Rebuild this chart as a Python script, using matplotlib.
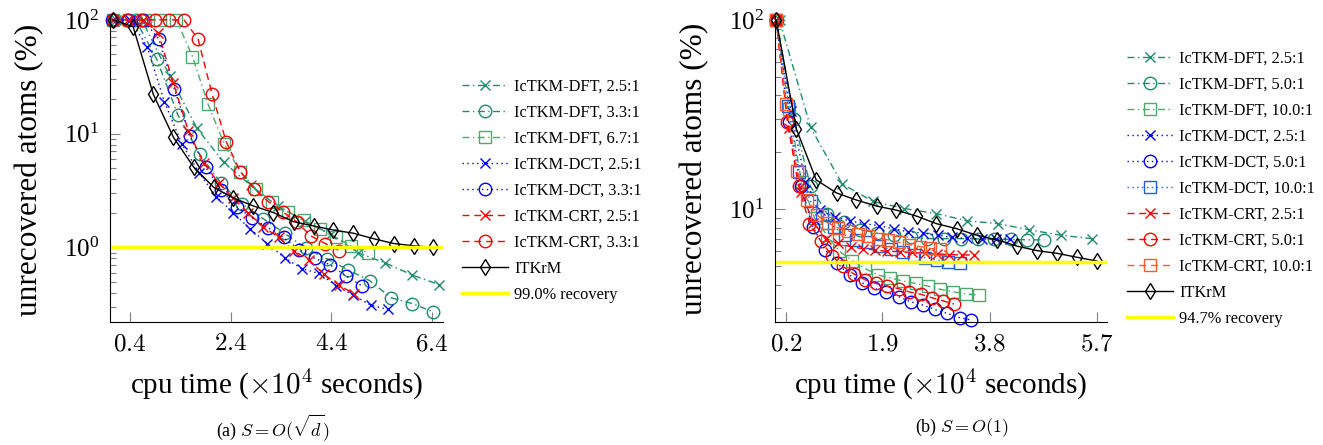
import matplotlib.pyplot as plt
from matplotlib.ticker import LogLocator, NullFormatter

plt.rcParams['font.family'] = 'Liberation Serif'
plt.rcParams['mathtext.fontset'] = 'cm'

# ---------------- (a) S = O(sqrt d) ----------------
a_dft25_x = [0.12, 0.66, 1.19, 1.73, 2.26, 2.80, 3.33, 3.87, 4.40, 4.94, 5.47, 6.01, 6.54]
a_dft25_y = [100, 95, 32, 11.1, 5.6, 3.5, 2.3, 1.7, 1.3, 0.89, 0.73, 0.57, 0.47]
a_dft33_x = [0.08, 0.51, 0.93, 1.35, 1.78, 2.20, 2.62, 3.05, 3.47, 3.89, 4.32, 4.74, 5.16, 5.59, 6.01, 6.43]
a_dft33_y = [100, 100, 45, 14.6, 6.6, 3.7, 2.41, 1.78, 1.33, 0.98, 0.79, 0.63, 0.51, 0.36, 0.32, 0.27]
a_dft67_x = [0.06, 0.37, 0.69, 1.00, 1.32, 1.64, 1.95, 2.27, 2.59, 2.90, 3.22, 3.54, 3.85, 4.17, 4.49, 4.80, 5.12]
a_dft67_y = [100, 100, 100, 100, 100, 47.6, 18.1, 8.1, 4.63, 3.28, 2.52, 2.05, 1.74, 1.44, 1.22, 1.03, 0.90]
a_dct25_x = [0.06, 0.40, 0.74, 1.08, 1.43, 1.77, 2.11, 2.45, 2.79, 3.13, 3.47, 3.81, 4.15, 4.50, 4.84, 5.18, 5.52]
a_dct25_y = [100, 100, 58, 19.1, 8.1, 4.54, 2.79, 2.02, 1.44, 1.08, 0.81, 0.65, 0.59, 0.46, 0.38, 0.31, 0.285]
a_dct33_x = [0.04, 0.35, 0.66, 0.97, 1.28, 1.59, 1.90, 2.21, 2.52, 2.83, 3.14, 3.45, 3.76, 4.07, 4.38, 4.69, 5.00]
a_dct33_y = [100, 100, 100, 68, 24.5, 9.5, 5.06, 3.19, 2.28, 1.80, 1.49, 1.22, 0.95, 0.80, 0.70, 0.56, 0.46]
a_crt25_x = [0.06, 0.36, 0.66, 0.96, 1.26, 1.56, 1.86, 2.16, 2.45, 2.75, 3.05, 3.35, 3.65, 3.95, 4.25, 4.55, 4.85]
a_crt25_y = [100, 100, 100, 77, 27.7, 10.5, 5.56, 3.66, 2.70, 1.99, 1.52, 1.22, 0.935, 0.774, 0.58, 0.466, 0.389]
a_crt33_x = [0.06, 0.34, 0.62, 0.90, 1.18, 1.47, 1.75, 2.03, 2.31, 2.59, 2.87, 3.15, 3.43, 3.71, 3.99, 4.28, 4.56]
a_crt33_y = [100, 100, 100, 100, 100, 100, 68, 22.2, 8.5, 4.63, 3.26, 2.52, 2.06, 1.68, 1.26, 1.08, 0.935]
a_itkrm_x = [0.06, 0.46, 0.86, 1.26, 1.66, 2.06, 2.45, 2.85, 3.25, 3.65, 4.05, 4.44, 4.84, 5.24, 5.64, 6.04, 6.43]
a_itkrm_y = [100, 87, 22.2, 9.3, 5.1, 3.37, 2.72, 2.31, 2.02, 1.68, 1.54, 1.42, 1.33, 1.19, 1.08, 1.03, 1.0]
a_recovery = 1.0
a_xticks = [0.4, 2.4, 4.4, 6.4]

# ---------------- (b) S = O(1) ----------------
b_dft25_x = [0.08, 0.63, 1.19, 1.74, 2.29, 2.85, 3.40, 3.95, 4.50, 5.06, 5.61]
b_dft25_y = [100, 27.1, 13.6, 11.0, 10.1, 9.5, 8.7, 8.4, 7.8, 7.3, 7.0]
b_dft50_x = [0.03, 0.33, 0.63, 0.92, 1.22, 1.51, 1.81, 2.11, 2.40, 2.70, 2.99, 3.29, 3.59, 3.88, 4.18, 4.47, 4.77]
b_dft50_y = [100, 30, 13.2, 9.5, 8.6, 7.8, 7.5, 7.3, 7.1, 7.0, 7.0, 7.0, 6.97, 6.94, 6.94, 6.9, 6.9]
b_dft100_x = [0.02, 0.25, 0.47, 0.70, 0.92, 1.14, 1.37, 1.59, 1.82, 2.04, 2.26, 2.49, 2.71, 2.93, 3.16, 3.38, 3.61]
b_dft100_y = [100, 34, 14, 9, 7.3, 6.0, 5.36, 4.88, 4.5, 4.35, 4.18, 4.06, 3.93, 3.78, 3.67, 3.57, 3.53]
b_dct25_x = [0.02, 0.28, 0.54, 0.80, 1.06, 1.32, 1.58, 1.84, 2.10, 2.36, 2.62, 2.88, 3.14, 3.40, 3.66, 3.92, 4.17]
b_dct25_y = [100, 33, 14, 9.9, 9.1, 8.7, 8.4, 8.2, 7.9, 7.6, 7.5, 7.3, 7.1, 7.03, 6.97, 6.97, 6.97]
b_dct50_x = [0.02, 0.24, 0.46, 0.67, 0.89, 1.10, 1.32, 1.54, 1.75, 1.97, 2.19, 2.40, 2.62, 2.83, 3.05, 3.27, 3.48]
b_dct50_y = [100, 29, 13.2, 8.1, 6.1, 5.2, 4.5, 4.1, 3.83, 3.65, 3.46, 3.25, 3.12, 2.96, 2.82, 2.68, 2.60]
b_dct100_x = [0.02, 0.23, 0.43, 0.63, 0.83, 1.04, 1.24, 1.44, 1.65, 1.85, 2.05, 2.26, 2.46, 2.66, 2.87, 3.07, 3.27]
b_dct100_y = [100, 35, 15.8, 11.0, 9.3, 8.1, 7.3, 6.9, 6.7, 6.4, 6.15, 5.98, 5.74, 5.56, 5.40, 5.29, 5.19]
b_crt25_x = [0.02, 0.24, 0.46, 0.68, 0.90, 1.12, 1.34, 1.55, 1.77, 1.99, 2.21, 2.43, 2.65, 2.87, 3.09, 3.31, 3.52]
b_crt25_y = [100, 26.8, 12.4, 8.5, 7.0, 6.6, 6.35, 6.2, 6.1, 6.0, 5.98, 5.93, 5.86, 5.81, 5.77, 5.74, 5.74]
b_crt50_x = [0.02, 0.22, 0.42, 0.61, 0.81, 1.01, 1.20, 1.40, 1.60, 1.79, 1.99, 2.19, 2.38, 2.58, 2.78, 2.97, 3.17]
b_crt50_y = [100, 29, 13.2, 8.4, 6.8, 5.7, 5.0, 4.55, 4.24, 4.06, 3.93, 3.81, 3.66, 3.56, 3.41, 3.29, 3.16]
b_crt100_x = [0.02, 0.20, 0.39, 0.57, 0.75, 0.93, 1.11, 1.29, 1.47, 1.65, 1.83, 2.01, 2.20, 2.38, 2.56, 2.74, 2.92]
b_crt100_y = [100, 36, 16, 11.2, 9.3, 8.5, 8.0, 7.7, 7.4, 7.2, 7.0, 6.9, 6.7, 6.5, 6.36, 6.22, 6.15]
b_itkrm_x = [0.02, 0.38, 0.73, 1.09, 1.44, 1.80, 2.15, 2.51, 2.86, 3.22, 3.57, 3.93, 4.28, 4.64, 4.99, 5.35, 5.70]
b_itkrm_y = [100, 26.5, 14.3, 12.2, 11.2, 10.4, 9.9, 9.2, 8.4, 7.9, 7.3, 6.9, 6.4, 6.05, 5.86, 5.58, 5.33]
b_recovery = 5.3
b_xticks = [0.2, 1.9, 3.8, 5.7]

TEAL = '#1f8c6c'
LGREEN = '#4daa6e'
BLUE = '#0000ff'
BLUE2 = '#1f5fe0'
RED = '#ff0000'
ORANGE = '#ff5a2e'
DASHDOT = (0, (5, 2.5, 1, 2.5))
DOTTED = (0, (1, 2.5))
DASHED = (0, (5, 3.5))

series_a = [
    ('IcTKM-DFT, 2.5:1', a_dft25_x, a_dft25_y, TEAL, DASHDOT, 'x', 7),
    ('IcTKM-DFT, 3.3:1', a_dft33_x, a_dft33_y, TEAL, DASHDOT, 'o', 9),
    ('IcTKM-DFT, 6.7:1', a_dft67_x, a_dft67_y, LGREEN, DASHDOT, 's', 8.5),
    ('IcTKM-DCT, 2.5:1', a_dct25_x, a_dct25_y, BLUE, DOTTED, 'x', 7),
    ('IcTKM-DCT, 3.3:1', a_dct33_x, a_dct33_y, BLUE, DOTTED, 'o', 9),
    ('IcTKM-CRT, 2.5:1', a_crt25_x, a_crt25_y, RED, DASHED, 'x', 7),
    ('IcTKM-CRT, 3.3:1', a_crt33_x, a_crt33_y, RED, DASHED, 'o', 9),
    ('ITKrM', a_itkrm_x, a_itkrm_y, 'black', '-', 'd', 8.5),
]
series_b = [
    ('IcTKM-DFT, 2.5:1', b_dft25_x, b_dft25_y, TEAL, DASHDOT, 'x', 7),
    ('IcTKM-DFT, 5.0:1', b_dft50_x, b_dft50_y, TEAL, DASHDOT, 'o', 9),
    ('IcTKM-DFT, 10.0:1', b_dft100_x, b_dft100_y, LGREEN, DASHDOT, 's', 8.5),
    ('IcTKM-DCT, 2.5:1', b_dct25_x, b_dct25_y, BLUE, DOTTED, 'x', 7),
    ('IcTKM-DCT, 5.0:1', b_dct50_x, b_dct50_y, BLUE, DOTTED, 'o', 9),
    ('IcTKM-DCT, 10.0:1', b_dct100_x, b_dct100_y, BLUE2, DOTTED, 's', 8.5),
    ('IcTKM-CRT, 2.5:1', b_crt25_x, b_crt25_y, RED, DASHED, 'x', 7),
    ('IcTKM-CRT, 5.0:1', b_crt50_x, b_crt50_y, RED, DASHED, 'o', 9),
    ('IcTKM-CRT, 10.0:1', b_crt100_x, b_crt100_y, ORANGE, DASHED, 's', 8.5),
    ('ITKrM', b_itkrm_x, b_itkrm_y, 'black', '-', 'd', 8.5),
]

W, H = 1323, 445
fig = plt.figure(figsize=(W / 100, H / 100), dpi=100)
ax1 = fig.add_axes([110 / W, 1 - 322 / H, 333 / W, 305 / H])
ax2 = fig.add_axes([775 / W, 1 - 322 / H, 332 / W, 306 / H])


def draw(ax, series, recovery, rec_label, xticks, xlim, ylim, caption, cap_x, leg_xy):
    for label, x, y, c, ls, m, ms in series:
        ax.plot(x, y, color=c, linestyle=ls, linewidth=1, marker=m, markersize=ms,
                markerfacecolor='none', markeredgecolor=c, markeredgewidth=1,
                label=label, clip_on=False)
    ax.axhline(recovery, color='#ffff00', linewidth=2.5, label=rec_label)
    ax.set_yscale('log')
    ax.set_xlim(*xlim)
    ax.set_ylim(*ylim)
    ax.yaxis.set_major_locator(LogLocator(base=10))
    ax.yaxis.set_minor_locator(LogLocator(base=10, subs=range(2, 10)))
    ax.yaxis.set_minor_formatter(NullFormatter())
    ax.set_xticks(xticks, labels=[f'${t}$' for t in xticks])
    for s in ['top', 'right']:
        ax.spines[s].set_visible(False)
    ax.tick_params(which='both', direction='in', color='#808080', width=0.8,
                   labelsize=18)
    ax.tick_params(which='major', length=7, pad=8)
    ax.tick_params(which='minor', length=4.5)
    ax.set_ylabel('unrecovered atoms (%)', fontsize=22.5, labelpad=14)
    ax.set_xlabel(r'cpu time ($\times 10^4$ seconds)', fontsize=21, labelpad=8)
    fig.text(cap_x / W, 1 - 428 / H, caption, ha='center', va='center', fontsize=13)
    ax.legend(loc='upper left', bbox_to_anchor=leg_xy, bbox_transform=fig.transFigure,
              frameon=False, fontsize=11.8, handlelength=2.8, handletextpad=0.37,
              labelspacing=0.61, borderpad=0, borderaxespad=0)


draw(ax1, series_a, a_recovery, '99.0% recovery', a_xticks, (0, 6.62), (0.2204, 106),
     r'(a) $S = O(\sqrt{d})$', 273, (462 / W, 1 - 79 / H))
draw(ax2, series_b, b_recovery, '94.7% recovery', b_xticks, (0, 5.88), (2.54, 105),
     r'(b) $S = O(1)$', 962, (1127 / W, 1 - 51 / H))

fig.savefig('out.png', dpi=100)
